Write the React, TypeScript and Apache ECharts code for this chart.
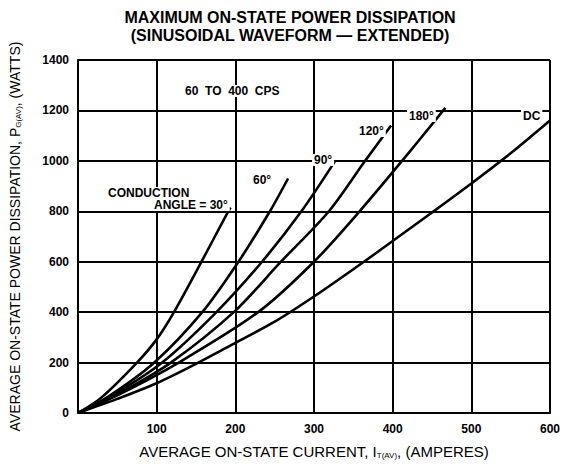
import React, { useEffect, useRef } from "react";
import * as echarts from "echarts";

const xTicks = [0, 100, 200, 300, 400, 500, 600];
const yTicks = [0, 200, 400, 600, 800, 1000, 1200, 1400];

const curve30: [number, number][] = [[0, 0], [30, 62], [75, 200], [100, 292], [122, 400], [157, 600], [191, 800], [194, 815]];
const curve60: [number, number][] = [[0, 0], [40, 68], [97, 200], [158, 400], [204, 600], [244, 800], [267, 930]];
const curve90: [number, number][] = [[0, 0], [45, 72], [107, 200], [176, 400], [234, 600], [284, 800], [327, 1000]];
const curve120: [number, number][] = [[0, 0], [50, 74], [118, 200], [198, 400], [258, 600], [319, 800], [365, 1000], [398, 1140]];
const curve180: [number, number][] = [[0, 0], [55, 78], [128, 200], [229, 400], [300, 600], [358, 800], [412, 1000], [467, 1210]];
const curveDC: [number, number][] = [[0, 0], [50, 56], [100, 118], [150, 195], [200, 278], [250, 362], [300, 462], [350, 570], [400, 682], [450, 795], [500, 910], [550, 1030], [600, 1160]];

const seriesNames = ["30°", "60°", "90°", "120°", "180°", "DC"];
const seriesData = [curve30, curve60, curve90, curve120, curve180, curveDC];

const FONT = "Liberation Sans, Arial, sans-serif";

export default function App() {
  const ref = useRef<HTMLDivElement>(null);
  useEffect(() => {
    document.body.style.margin = "0";
    const chart = echarts.init(ref.current!, null, { renderer: "svg" });
    const annot = (text: string, x: number, y: number, size = 12, bg = false) => ({
      type: "text",
      x,
      y,
      z: 100,
      style: {
        text,
        x: 0,
        y: 0,
        fill: "#000",
        font: `bold ${size}px ${FONT}`,
        textAlign: "left",
        textVerticalAlign: "middle",
        backgroundColor: bg ? "#fff" : undefined,
        padding: bg ? [0, 2] : undefined,
      },
    });
    const subRich = { sub: { fontSize: 8, verticalAlign: "bottom", padding: [6, 0, 0, 0], fontFamily: FONT, color: "#000" } };
    chart.setOption({
      animation: false,
      backgroundColor: "#fff",
      grid: { left: 75, right: 12, top: 60, bottom: 51, containLabel: false },
      xAxis: {
        type: "value",
        min: xTicks[0],
        max: xTicks[xTicks.length - 1],
        interval: 100,
        name: "AVERAGE ON-STATE CURRENT, I{sub|T(AV)}, (AMPERES)",
        nameLocation: "middle",
        nameGap: 31,
        nameTextStyle: { fontFamily: FONT, fontSize: 15, color: "#000", rich: subRich },
        axisLine: { show: true, lineStyle: { color: "#000", width: 2 } },
        axisTick: { show: false },
        axisLabel: {
          color: "#000",
          fontFamily: FONT,
          fontWeight: "bold",
          fontSize: 12,
          margin: 10,
          formatter: (v: number) => (v === 0 ? "" : String(v)),
        },
        splitLine: { show: true, lineStyle: { color: "#000", width: 2 } },
      },
      yAxis: {
        type: "value",
        min: yTicks[0],
        max: yTicks[yTicks.length - 1],
        interval: 200,
        name: "AVERAGE ON-STATE POWER DISSIPATION, P{sub|G(AV)}, (WATTS)",
        nameLocation: "middle",
        nameGap: 56,
        nameTextStyle: { fontFamily: FONT, fontSize: 14, color: "#000", rich: subRich },
        axisLine: { show: true, lineStyle: { color: "#000", width: 2 } },
        axisTick: { show: false },
        axisLabel: {
          color: "#000",
          fontFamily: FONT,
          fontWeight: "bold",
          fontSize: 12,
          margin: 9,
          formatter: (v: number) => String(v),
        },
        splitLine: { show: true, lineStyle: { color: "#000", width: 2 } },
      },
      series: seriesData.map((d, i) => ({
        name: seriesNames[i],
        type: "line",
        data: d,
        smooth: 0.3,
        showSymbol: false,
        lineStyle: { color: "#000", width: 2.6 },
        z: 10,
      })),
      graphic: [
        {
          type: "text",
          x: 290,
          y: 8,
          style: {
            text: "MAXIMUM ON-STATE POWER DISSIPATION\n(SINUSOIDAL WAVEFORM — EXTENDED)",
            font: `bold 16px ${FONT}`,
            fill: "#000",
            textAlign: "center",
            lineHeight: 18,
          },
        },
        annot("60  TO  400  CPS", 183, 91, 12, true),
        annot("CONDUCTION", 106, 193, 12, true),
        annot("ANGLE = 30°", 152, 205, 12, true),
        annot("60°", 251, 180, 12, true),
        annot("90°", 312, 160, 12, true),
        annot("120°", 357, 131, 12, true),
        annot("180°", 407, 116, 12, true),
        annot("DC", 521, 116, 12, true),
      ],
    });
    return () => chart.dispose();
  }, []);
  return <div ref={ref} style={{ width: 563, height: 464 }} />;
}
